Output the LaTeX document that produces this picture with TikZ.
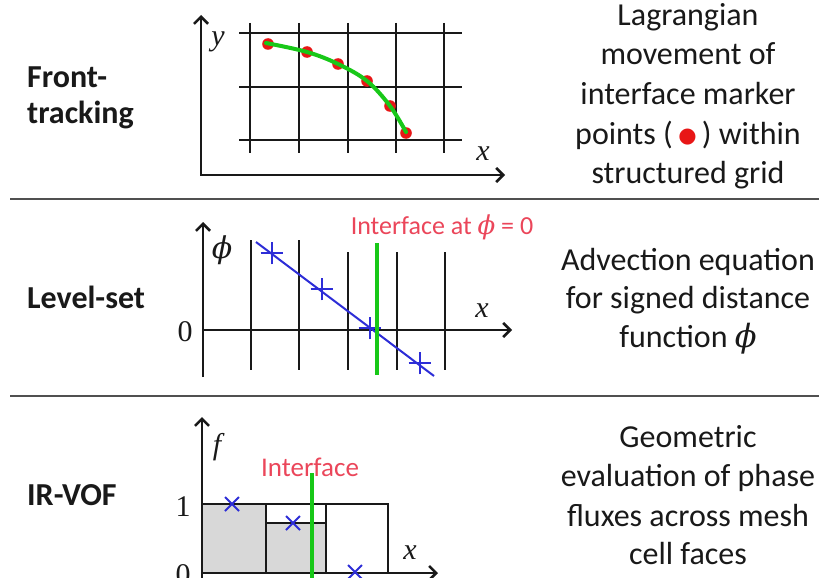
\documentclass[tikz,border=0pt]{standalone}
\usepackage{fontspec}
\setmainfont{Carlito}
\newfontfamily\serifrm{Liberation Serif}
\newfontfamily\dvserif{DejaVu Serif}
\newfontfamily\dvsans{DejaVu Sans}
\usetikzlibrary{arrows.meta,shapes.misc}
\definecolor{axisblack}{RGB}{25,25,25}
\definecolor{txtgray}{RGB}{25,25,25}
\definecolor{sepgray}{RGB}{80,80,80}
\definecolor{ptred}{RGB}{232,22,22}
\definecolor{curvegreen}{RGB}{24,200,24}
\definecolor{markblue}{RGB}{45,45,215}
\definecolor{lblred}{RGB}{235,70,90}
\definecolor{cellgray}{RGB}{216,216,216}
\newcommand\mvar[1]{{\serifrm\itshape #1}}
\newcommand\phisym{{\dvserif\itshape ϕ}}
\begin{document}
\begin{tikzpicture}[x=1pt,y=-1pt,
  desc/.style={anchor=base,inner sep=0pt,font=\fontsize{32}{39}\selectfont,text=txtgray},
  meth/.style={anchor=base west,inner sep=0pt,font=\fontsize{32}{38}\selectfont\bfseries,text=txtgray},
  axislbl/.style={inner sep=0pt,font=\fontsize{30}{30}\selectfont,text=axisblack},
  axes/.style={line width=2.6pt,draw=axisblack,line join=miter,{Straight Barb[length=7pt,width=14pt]}-{Straight Barb[length=7pt,width=14pt]}},
  axis/.style={line width=2.6pt,draw=axisblack,-{Straight Barb[length=7pt,width=14pt]}},
  gridln/.style={line width=2.6pt,draw=axisblack},
  cellln/.style={line width=2.2pt,draw=axisblack},
  sepln/.style={line width=2.2pt,draw=sepgray},
  greenln/.style={line width=4.5pt,draw=curvegreen},
  plusmark/.style={draw=markblue,line width=2pt,cross out,minimum size=14pt,inner sep=0pt,rotate=45},
  xmark/.style={draw=markblue,line width=2pt,cross out,minimum size=12pt,inner sep=0pt},
  redlbl/.style={inner sep=0pt,text=lblred,font=\fontsize{26}{30}\selectfont}
]
\fill[white] (0,0) rectangle (819,578);
\path[use as bounding box] (0,0) rectangle (819,578);

% separators
\coordinate (s1a) at (10,199); \coordinate (s1b) at (819,199);
\coordinate (s2a) at (10,396); \coordinate (s2b) at (819,396);
\draw[sepln] (s1a) -- (s1b);
\draw[sepln] (s2a) -- (s2b);

% left method labels
\node[meth] (m1a) at (27,87) {Front-};
\node[meth] (m1b) at (27,123) {tracking};
\node[meth] (m2) at (27,308) {Level-set};
\node[meth] (m3) at (27,505) {IR-VOF};

% right descriptions
\node[desc] (d1a) at (688,26) {Lagrangian};
\node[desc] (d1b) at (688,65) {movement of};
\node[desc] (d1c) at (688,104) {interface marker};
\node[desc] (d1d) at (688,144) {points (\,{\color{ptred}\fontsize{21}{21}\selectfont\raisebox{1.5pt}{\dvsans ●}}\,) within};
\node[desc] (d1e) at (688,183) {structured grid};
\node[desc] (d2a) at (688,270) {Advection equation};
\node[desc] (d2b) at (688,308) {for signed distance};
\node[desc] (d2c) at (688,347) {function \phisym};
\node[desc] (d3a) at (688,447) {Geometric};
\node[desc] (d3b) at (688,486) {evaluation of phase};
\node[desc] (d3c) at (688,526) {fluxes across mesh};
\node[desc] (d3d) at (688,564) {cell faces};

% ---------- panel 1: front tracking ----------
\foreach \gx in {250,299,348,396,444} \draw[gridln] (\gx,23) -- (\gx,153);
\foreach \gy in {33,87,140} \draw[gridln] (239,\gy) -- (462,\gy);
\coordinate (o1) at (201,175); \coordinate (y1) at (201,15); \coordinate (x1) at (505,175);
\draw[axes] (y1) -- (o1) -- (x1);
\foreach \p in {(268,44),(307,52),(338,64),(367,81),(390,106),(406,133)} \fill[ptred] \p circle (5.8pt);
\draw[curvegreen,line width=4pt,line cap=round] plot[smooth,tension=0.6] coordinates {(266,43) (307,52) (338,64) (367,81) (390,106) (406,132)};
\node[axislbl] (ylbl) at (218,42) {\mvar{y}};
\node[axislbl] (xlbl1) at (483,154) {\mvar{x}};

% ---------- panel 2: level set ----------
\foreach \gx in {251,299} \draw[gridln] (\gx,240) -- (\gx,370);
\foreach \gx in {348,397,445} \draw[gridln] (\gx,252) -- (\gx,370);
\coordinate (o2) at (203,330); \coordinate (y2) at (203,222); \coordinate (b2) at (203,377); \coordinate (x2) at (512,330);
\draw[axis] (b2) -- (y2);
\draw[axis] (o2) -- (x2);
\coordinate (ls1) at (256,242); \coordinate (ls2) at (434,376);
\draw[markblue,line width=2pt] (ls1) -- (ls2);
\node[plusmark] (p1) at (272,253) {};
\node[plusmark] (p2) at (322,289) {};
\node[plusmark] (p3) at (370,328) {};
\node[plusmark] (p4) at (420,363) {};
\coordinate (g2a) at (377,243); \coordinate (g2b) at (377,375);
\draw[greenln] (g2a) -- (g2b);
\node[redlbl] (iface2) at (442,227) {Interface at {\dvserif\itshape ϕ} = 0};
\node[axislbl] (philbl) at (222,250) {\phisym};
\node[axislbl] (zero2) at (185,332) {\serifrm 0};
\node[axislbl] (xlbl2) at (482,311) {\mvar{x}};

% ---------- panel 3: IR-VOF ----------
\fill[cellgray] (202,504) rectangle (266,573);
\fill[cellgray] (266,523) rectangle (326,573);
\draw[cellln] (202,504) rectangle (388,573);
\draw[cellln] (266,504) -- (266,573);
\draw[cellln] (326,504) -- (326,573);
\draw[cellln] (266,523) -- (326,523);
\coordinate (b3) at (202,585); \coordinate (y3) at (202,417);
\coordinate (o3) at (202,573); \coordinate (x3) at (438,573);
\draw[axis] (b3) -- (y3);
\draw[axis] (o3) -- (x3);
\node[xmark] (c1) at (232,504) {};
\node[xmark] (c2) at (293,523) {};
\node[xmark] (c3) at (355,572) {};
\coordinate (g3a) at (312,473); \coordinate (g3b) at (312,585);
\draw[greenln] (g3a) -- (g3b);
\node[redlbl,font=\fontsize{27}{30}\selectfont] (iface3) at (310,467) {Interface};
\node[axislbl] (flbl) at (217,447) {\mvar{f}};
\node[axislbl] (one3) at (183,507) {\serifrm 1};
\node[axislbl] (zero3) at (183,575) {\serifrm 0};
\node[axislbl] (xlbl3) at (410,553) {\mvar{x}};
\end{tikzpicture}
\end{document}
